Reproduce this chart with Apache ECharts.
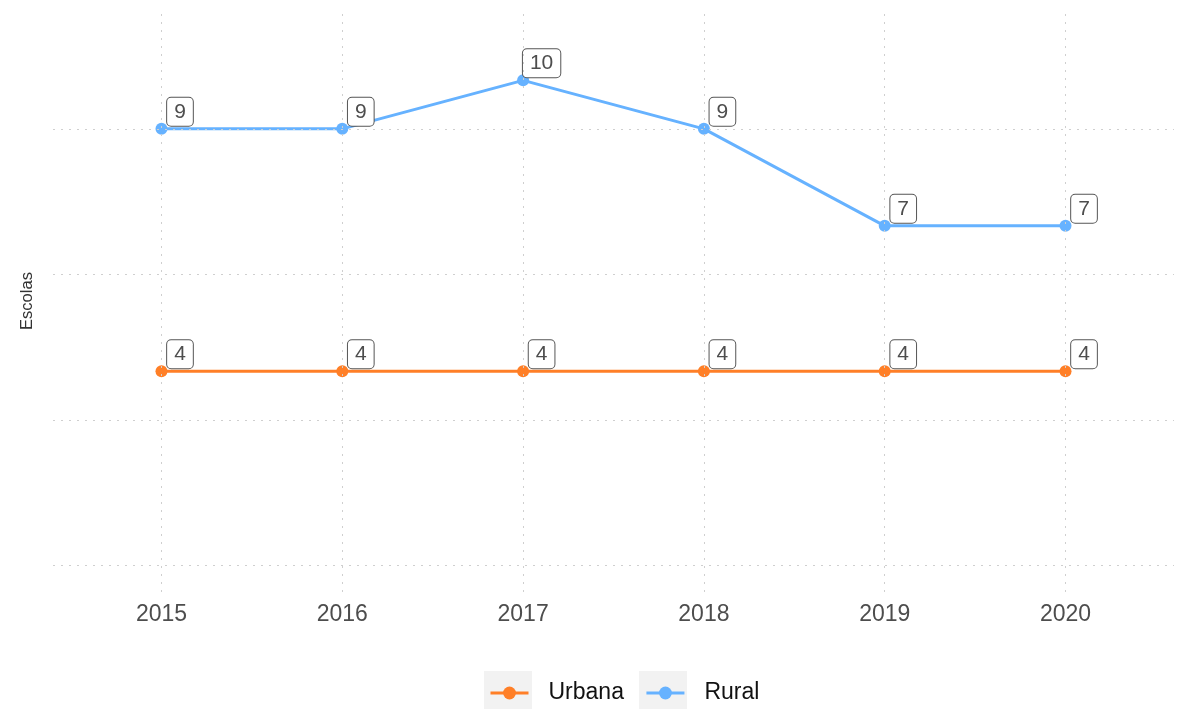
<!DOCTYPE html>
<html>
<head>
<meta charset="utf-8">
<style>
  html, body { margin: 0; padding: 0; background: #fff; }
  #chart { width: 1187px; height: 709px; }
</style>
<script src="https://cdn.jsdelivr.net/npm/echarts@6/dist/echarts.min.js"></script>
</head>
<body>
<div id="chart"></div>
<script>
// Number of schools per year, by location
const years = [2015, 2016, 2017, 2018, 2019, 2020];
const urbana = [4, 4, 4, 4, 4, 4];
const rural = [9, 9, 10, 9, 7, 7];
const yGridValues = [0, 3, 6, 9];

const FONT = '"Liberation Sans", Arial, Helvetica, sans-serif';
const ORANGE = '#FF7F27';
const BLUE = '#66B2FF';
const GRID_LINE = { color: '#cfcfcf', width: 1, type: [2, 6] };

const chart = echarts.init(document.getElementById('chart'), null, { renderer: 'canvas' });

const boxLabel = {
  show: true,
  position: [24.5, -11],
  align: 'center',
  verticalAlign: 'middle',
  fontFamily: FONT,
  fontSize: 21,
  color: '#4d4d4d',
  backgroundColor: '#fff',
  borderColor: '#555',
  borderWidth: 1,
  borderRadius: 4,
  padding: [4, 7, 3, 7],
  lineHeight: 21
};

function lineSeries(name, values, color) {
  return {
    name: name,
    type: 'line',
    z: 3,
    data: years.map((y, i) => [y, values[i]]),
    symbol: 'circle',
    symbolSize: 12,
    showSymbol: true,
    color: color,
    lineStyle: { width: 3, color: color },
    itemStyle: { color: color },
    label: boxLabel,
    emphasis: { disabled: true },
    animation: false
  };
}

chart.setOption({
  animation: false,
  textStyle: { fontFamily: FONT },
  grid: { left: 53, right: 13, top: 10, bottom: 117, containLabel: false },
  xAxis: {
    type: 'value',
    min: 2014.4,
    max: 2020.6,
    axisLine: { show: false },
    axisTick: { show: false, customValues: years },
    splitLine: { show: false },
    axisLabel: {
      customValues: years,
      formatter: v => String(v),
      fontFamily: FONT,
      fontSize: 23,
      color: '#4d4d4d',
      margin: 11
    }
  },
  yAxis: {
    type: 'value',
    min: -0.55,
    max: 11.45,
    name: 'Escolas',
    nameLocation: 'middle',
    nameRotate: 90,
    nameGap: 17,
    nameTextStyle: { fontFamily: FONT, fontSize: 16.5, color: '#333' },
    axisLine: { show: false },
    axisTick: { show: false },
    axisLabel: { show: false },
    splitLine: { show: false }
  },
  legend: {
    data: ['Urbana', 'Rural'],
    left: 484,
    top: 675,
    padding: 5,
    itemWidth: 38,
    itemHeight: 16,
    itemGap: 21,
    lineStyle: { width: 3 },
    textStyle: {
      fontFamily: FONT,
      fontSize: 23,
      color: '#111',
      lineHeight: 26,
      padding: [0, 0, 0, 15]
    },
    selectedMode: false
  },
  graphic: [
    { type: 'rect', z: 0, shape: { x: 484, y: 671, width: 48, height: 38 }, style: { fill: '#f2f2f2' }, silent: true },
    { type: 'rect', z: 0, shape: { x: 639, y: 671, width: 48, height: 38 }, style: { fill: '#f2f2f2' }, silent: true }
  ],
  series: [
    {
      type: 'line',
      z: 1,
      data: [],
      silent: true,
      markLine: {
        silent: true,
        symbol: ['none', 'none'],
        label: { show: false },
        lineStyle: GRID_LINE,
        emphasis: { disabled: true },
        data: yGridValues.map(v => ({ yAxis: v })).concat(years.map(y => ({ xAxis: y })))
      }
    },
    lineSeries('Urbana', urbana, ORANGE),
    lineSeries('Rural', rural, BLUE)
  ]
});
</script>
</body>
</html>
